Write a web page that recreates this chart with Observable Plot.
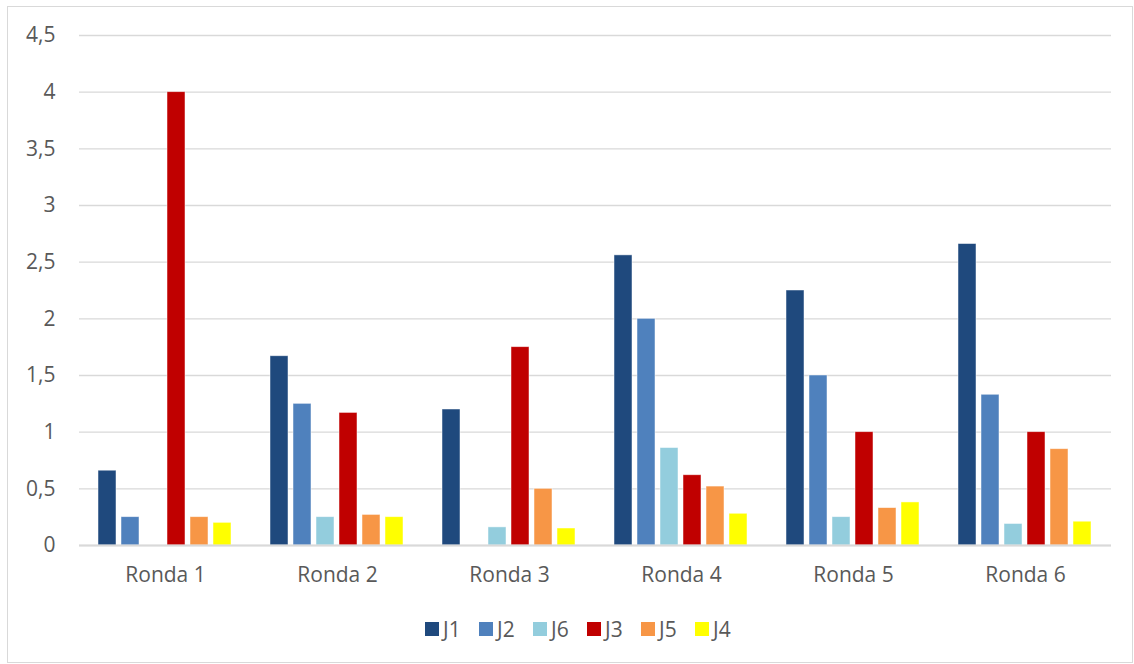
<!DOCTYPE html>
<html><head><meta charset="utf-8">
<script src="https://cdn.jsdelivr.net/npm/d3@7"></script>
<script src="https://cdn.jsdelivr.net/npm/@observablehq/plot@0.6"></script>
<style>
body{margin:0;background:#fff;font-family:"Open Sans",sans-serif;}
#frame{position:absolute;left:7px;top:6px;width:1124px;height:655px;border:1px solid #d9d9d9;}
#chart{position:absolute;left:0;top:0;}
#legend{position:absolute;left:425px;top:615px;height:28px;display:flex;align-items:center;font-size:21px;color:#595959;}
#legend .it{display:flex;align-items:center;width:54px;}
#legend .sw{width:14px;height:14px;display:inline-block;margin-right:4px;}
</style></head>
<body>
<div id="frame"></div>
<div id="chart"></div>
<div id="legend"></div>
<script>
const rounds = ["Ronda 1","Ronda 2","Ronda 3","Ronda 4","Ronda 5","Ronda 6"];
const players = ["J1","J2","J6","J3","J5","J4"];
const colors = ["#1F497D","#4F81BD","#93CDDD","#C00000","#F79646","#FFFF00"];
const J1 = [0.66,1.67,1.2,2.56,2.25,2.66];
const J2 = [0.25,1.25,0,2.0,1.5,1.33];
const J6 = [0,0.25,0.16,0.86,0.25,0.19];
const J3 = [4.0,1.17,1.75,0.62,1.0,1.0];
const J5 = [0.25,0.27,0.5,0.52,0.33,0.85];
const J4 = [0.2,0.25,0.15,0.28,0.38,0.21];
const yTicks = [0,0.5,1,1.5,2,2.5,3,3.5,4,4.5];

const series = {J1,J2,J6,J3,J5,J4};
const data = [];
rounds.forEach((r,i)=>players.forEach(p=>data.push({round:r,player:p,value:series[p][i]})));

const fmt = d => String(d).replace(".", ",");
const chart = Plot.plot({
  width:1134, height:600,
  marginLeft:78, marginRight:22, marginTop:35, marginBottom:55,
  style:{fontFamily:"'Open Sans', sans-serif", fontSize:"21px", color:"#595959", background:"transparent"},
  fx:{domain:rounds, padding:0, label:null},
  x:{domain:players, paddingInner:0.2, paddingOuter:0.8, axis:null},
  y:{domain:[0,4.5], label:null},
  color:{domain:players, range:colors},
  marks:[
    Plot.gridY(yTicks,{stroke:"#d9d9d9", strokeOpacity:1, strokeWidth:1.3}),
    Plot.axisY(yTicks,{tickSize:0, tickPadding:24, tickFormat:fmt, fill:"#595959", fontSize:21, label:null}),
    Plot.axisFx({tickSize:0, tickPadding:22, fill:"#595959", fontSize:21, label:null, anchor:"bottom"}),
    Plot.barY(data,{fx:"round", x:"player", y:"value", fill:"player", stroke:"white", strokeOpacity:0.6, strokeWidth:0.8}),
    Plot.ruleY([0],{stroke:"#d9d9d9", strokeWidth:2})
  ]
});
document.getElementById("chart").appendChild(chart);

const lg = document.getElementById("legend");
players.forEach((p,i)=>{
  const it = document.createElement("span"); it.className="it";
  const sw = document.createElement("span"); sw.className="sw"; sw.style.background=colors[i];
  const t = document.createElement("span"); t.textContent=p;
  it.appendChild(sw); it.appendChild(t); lg.appendChild(it);
});
</script>
</body></html>
